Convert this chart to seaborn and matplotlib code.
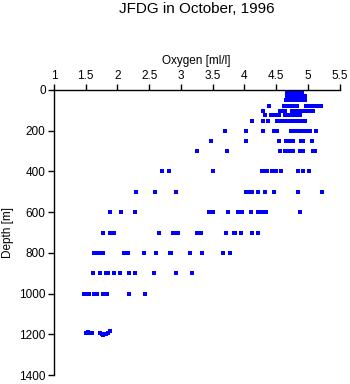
import numpy as np
import pandas as pd
import matplotlib
matplotlib.use("Agg")
import matplotlib.pyplot as plt
import seaborn as sns

# ---- data (oxygen in ml/l at each sampling depth) ----
depth_levels = [2, 6, 10, 14, 18, 28, 50, 77, 103, 125, 150, 200, 250, 300,
                400, 500, 600, 700, 800, 900, 1000]
ox_surface = [4.67, 4.71, 4.75, 4.79, 4.83, 4.87, 4.91]          # repeated for 2-18 m
ox_28 = [4.68, 4.72, 4.76, 4.80, 4.84, 4.88, 4.92, 4.96]
ox_50 = [4.65, 4.69, 4.73, 4.77, 4.81, 4.85, 4.89, 4.93, 4.96]
ox_77 = [4.39, 4.62, 4.65, 4.69, 4.72, 4.75, 4.79, 4.83, 4.97, 5.00, 5.04, 5.08, 5.12, 5.16, 5.21]
ox_103 = [4.30, 4.56, 4.60, 4.64, 4.75, 4.79, 4.83, 4.87, 4.91, 4.94, 5.00, 5.04, 5.08]
ox_125 = [4.32, 4.42, 4.46, 4.50, 4.54, 4.64, 4.68, 4.72, 4.76, 4.80, 4.84, 4.88]
ox_150 = [4.12, 4.30, 4.37, 4.51, 4.55, 4.59, 4.62, 4.69, 4.73, 4.77, 4.81, 4.85, 4.89, 4.93, 4.96]
ox_200 = [3.69, 4.03, 4.29, 4.46, 4.52, 4.73, 4.76, 4.80, 4.83, 4.87, 4.92, 4.97, 5.04, 5.13]
ox_250 = [3.47, 4.03, 4.55, 4.66, 4.71, 4.74, 4.76, 4.89, 4.93, 5.06]
ox_300 = [3.25, 3.73, 4.56, 4.64, 4.68, 4.71, 4.76, 4.88, 4.91, 4.93, 5.08, 5.11]
ox_400 = [2.71, 2.81, 3.50, 4.28, 4.31, 4.35, 4.43, 4.47, 4.50, 4.58, 4.84, 4.93, 5.02]
ox_500 = [2.29, 2.59, 2.93, 4.02, 4.07, 4.12, 4.22, 4.32, 4.47, 4.84, 5.23]
ox_600 = [1.89, 2.05, 2.27, 3.44, 3.48, 3.51, 3.74, 3.90, 3.94, 3.96, 4.10, 4.22, 4.26, 4.30, 4.34, 4.88]
ox_700 = [1.78, 1.89, 1.92, 1.95, 2.65, 2.88, 2.92, 2.95, 3.25, 3.28, 3.32, 3.71, 3.83, 3.86, 3.94, 4.12, 4.21]
ox_800 = [1.63, 1.67, 1.71, 1.78, 2.10, 2.14, 2.17, 2.42, 2.61, 2.83, 2.85, 3.14, 3.34, 3.66, 3.77]
ox_900 = [1.62, 1.72, 1.82, 1.85, 1.94, 2.04, 2.18, 2.27, 2.58, 2.93, 3.17]
ox_1000 = [1.48, 1.52, 1.55, 1.63, 1.66, 1.68, 1.78, 1.81, 1.83, 2.19, 2.44]
# deepest cast, depths vary slightly
ox_deep = [1.51, 1.54, 1.57, 1.60, 1.72, 1.75, 1.77, 1.79, 1.82, 1.85, 1.88]
depth_deep = [1195, 1190, 1192, 1195, 1193, 1200, 1205, 1200, 1197, 1192, 1185]

x_ticks = [1, 1.5, 2, 2.5, 3, 3.5, 4, 4.5, 5, 5.5]
x_ticklabels = ["1", "1.5", "2", "2.5", "3", "3.5", "4", "4.5", "5", "5.5"]
y_ticks = [0, 200, 400, 600, 800, 1000, 1200, 1400]

level_values = [ox_surface] * 5 + [ox_28, ox_50, ox_77, ox_103, ox_125, ox_150, ox_200,
                                   ox_250, ox_300, ox_400, ox_500, ox_600, ox_700,
                                   ox_800, ox_900, ox_1000]
rows = []
for d, vals in zip(depth_levels, level_values):
    for v in vals:
        rows.append((v, d))
for v, d in zip(ox_deep, depth_deep):
    rows.append((v, d))
df = pd.DataFrame(rows, columns=["Oxygen", "Depth"])

# ---- styling ----
sns.set_theme(style="white")
plt.rcParams["font.family"] = ["Liberation Sans", "DejaVu Sans"]

fig = plt.figure(figsize=(3.5, 3.84), dpi=100)
ax = fig.add_axes([54 / 350, 1 - 375 / 384, (339.5 - 54) / 350, (375 - 90) / 384])

sns.scatterplot(data=df, x="Oxygen", y="Depth", ax=ax, color="#0000ff",
                marker="s", s=5, linewidth=0)

ax.set_xlim(1, 5.5)
ax.set_ylim(1400, 0)
ax.xaxis.set_ticks_position("top")
ax.xaxis.set_label_position("top")
ax.set_xticks(x_ticks)
ax.set_xticklabels(x_ticklabels)
ax.set_yticks(y_ticks)
ax.tick_params(axis="both", direction="out", length=4, width=1, color="black",
               labelsize=8.5, labelcolor="black", pad=2)
ax.tick_params(axis="x", top=True, bottom=False)
ax.tick_params(axis="y", left=True, right=False)
for side in ["right", "bottom"]:
    ax.spines[side].set_visible(False)
for side in ["left", "top"]:
    ax.spines[side].set_visible(True)
    ax.spines[side].set_color("black")
    ax.spines[side].set_linewidth(1)

ax.set_xlabel("Oxygen [ml/l]", fontsize=8.5, labelpad=4, color="black")
ax.set_ylabel("Depth [m]", fontsize=8.5, labelpad=4, color="black")
ax.grid(False)

fig.text(196.5 / 350, 1 - 9 / 384, "JFDG in October, 1996", ha="center", va="center",
         fontsize=11, color="black")

fig.savefig("out.png", dpi=100, facecolor="white")
